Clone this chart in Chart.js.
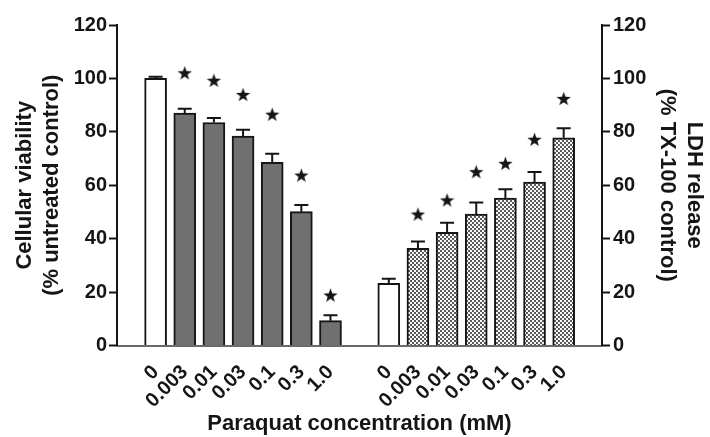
<!DOCTYPE html>
<html>
<head>
<meta charset="utf-8">
<script src="https://cdn.jsdelivr.net/npm/chart.js@4.4.1/dist/chart.umd.min.js"></script>
<style>
  html, body { margin: 0; padding: 0; background: #fff; }
</style>
</head>
<body>
<canvas id="myChart" width="710" height="437"></canvas>
<script>
// values
const concLabels = ['0', '0.003', '0.01', '0.03', '0.1', '0.3', '1.0']
const viability = [100, 87, 83.5, 78.4, 68.6, 50.1, 9.3]
const viabilityErr = [0.6, 1.6, 1.7, 2.4, 3.2, 2.5, 2.0]
const viabilityStar = [null, 102.1, 99.3, 94, 86.6, 63.8, 18.9]
const ldh = [23.3, 36.4, 42.4, 49.2, 55.2, 61.2, 77.8]
const ldhErr = [1.7, 2.5, 3.6, 4.3, 3.3, 3.8, 3.5]
const ldhStar = [null, 49.2, 54.5, 65.1, 68.2, 77.2, 92.5]
const yTicks = [0, 20, 40, 60, 80, 100, 120]

// slot of each bar on the x axis: left group, one empty slot, right group
const leftX = concLabels.map((_, i) => i)
const rightX = concLabels.map((_, i) => i + concLabels.length + 1)

const FONT = "'Liberation Sans', Arial, Helvetica, sans-serif"
const INK = '#151515'

function makeStar(size) {
  const c = document.createElement('canvas')
  c.width = c.height = size
  const g = c.getContext('2d')
  g.fillStyle = INK
  g.beginPath()
  for (let k = 0; k < 10; k++) {
    const r = k % 2 ? size * 0.2 : size * 0.5
    const a = -Math.PI / 2 + k * Math.PI / 5
    g.lineTo(size / 2 + r * Math.cos(a), size / 2 + r * Math.sin(a) + size * 0.05)
  }
  g.closePath()
  g.fill()
  return c
}

// small checker used for the LDH bars
function makeHatch() {
  const c = document.createElement('canvas')
  c.width = c.height = 4
  const g = c.getContext('2d')
  g.fillStyle = '#fafafa'
  g.fillRect(0, 0, 4, 4)
  g.fillStyle = '#5a5a5a'
  g.fillRect(2, 0, 2, 2)
  g.fillRect(0, 2, 2, 2)
  return g.createPattern(c, 'repeat')
}

const star = makeStar(15)
const hatch = makeHatch()

const errorBars = {
  id: 'errorBars',
  afterDatasetsDraw(chart) {
    const ctx = chart.ctx
    const ys = chart.scales.y
    const sets = [[0, viability, viabilityErr], [1, ldh, ldhErr]]
    sets.forEach(([di, vals, errs]) => {
      chart.getDatasetMeta(di).data.forEach((bar, i) => {
        const top = ys.getPixelForValue(vals[i] + errs[i])
        ctx.save()
        ctx.strokeStyle = INK
        ctx.lineWidth = 2
        ctx.beginPath()
        ctx.moveTo(bar.x, bar.y)
        ctx.lineTo(bar.x, top)
        ctx.moveTo(bar.x - 7, top)
        ctx.lineTo(bar.x + 7, top)
        ctx.stroke()
        ctx.restore()
      })
    })
  }
}

const tickFont = { family: FONT, size: 20, weight: 'bold' }
const titleFont = { family: FONT, size: 22, weight: 'bold', lineHeight: 1.2 }

const data = {
  datasets: [
    {
      type: 'bar',
      label: 'Cellular viability',
      data: leftX.map((x, i) => ({ x, y: viability[i] })),
      backgroundColor: viability.map((_, i) => i === 0 ? '#ffffff' : '#707070'),
      borderColor: INK,
      borderWidth: 2,
      barThickness: 22,
      grouped: false
    },
    {
      type: 'bar',
      label: 'LDH release',
      data: rightX.map((x, i) => ({ x, y: ldh[i] })),
      backgroundColor: ldh.map((_, i) => i === 0 ? '#ffffff' : hatch),
      borderColor: INK,
      borderWidth: 2,
      barThickness: 22,
      grouped: false
    },
    {
      type: 'scatter',
      label: 'significant',
      data: leftX.map((x, i) => ({ x, y: viabilityStar[i] }))
        .concat(rightX.map((x, i) => ({ x, y: ldhStar[i] })))
        .filter(p => p.y !== null),
      pointStyle: star,
      pointRadius: 8
    }
  ]
}

const config = {
  type: 'bar',
  data,
  options: {
    responsive: false,
    animation: false,
    devicePixelRatio: 1,
    layout: { padding: { top: 25, left: 0, right: 0, bottom: 0 } },
    plugins: { legend: { display: false }, tooltip: { enabled: false } },
    scales: {
      x: {
        type: 'linear',
        min: -0.73,
        max: 14.72,
        afterBuildTicks: s => { s.ticks = leftX.concat(rightX).map(v => ({ value: v })) },
        afterFit: s => { s.height = 91.5 },
        ticks: {
          autoSkip: false,
          minRotation: 45,
          maxRotation: 45,
          padding: 15,
          color: INK,
          font: tickFont,
          callback: v => v < concLabels.length ? concLabels[v] : concLabels[v - concLabels.length - 1]
        },
        grid: { display: false, drawTicks: false },
        border: { color: '#6a6a6a', width: 2 },
        title: {
          display: true,
          text: 'Paraquat concentration (mM)',
          color: INK,
          font: titleFont,
          padding: { top: 0, bottom: 0 }
        }
      },
      y: {
        position: 'left',
        min: 0,
        max: 120,
        afterBuildTicks: s => { s.ticks = yTicks.map(v => ({ value: v })) },
        afterFit: s => { s.width = 117 },
        ticks: { color: INK, font: tickFont, padding: 2 },
        grid: { drawOnChartArea: false, tickLength: 8, tickWidth: 2, tickColor: INK },
        border: { color: INK, width: 2 },
        title: {
          display: true,
          text: ['Cellular viability', '(% untreated control)'],
          color: INK,
          font: titleFont,
          padding: { top: 12, bottom: 0 }
        }
      },
      y2: {
        position: 'right',
        min: 0,
        max: 120,
        afterBuildTicks: s => { s.ticks = yTicks.map(v => ({ value: v })) },
        afterFit: s => { s.width = 108 },
        ticks: { color: INK, font: tickFont, padding: 3 },
        grid: { drawOnChartArea: false, tickLength: 8, tickWidth: 2, tickColor: INK },
        border: { color: INK, width: 2 },
        title: {
          display: true,
          text: ['LDH release', '(% TX-100 control)'],
          color: INK,
          font: titleFont,
          padding: { top: 3, bottom: 0 }
        }
      }
    }
  },
  plugins: [errorBars]
}

const myChart = new Chart(document.querySelector('#myChart'), config)
</script>
</body>
</html>
